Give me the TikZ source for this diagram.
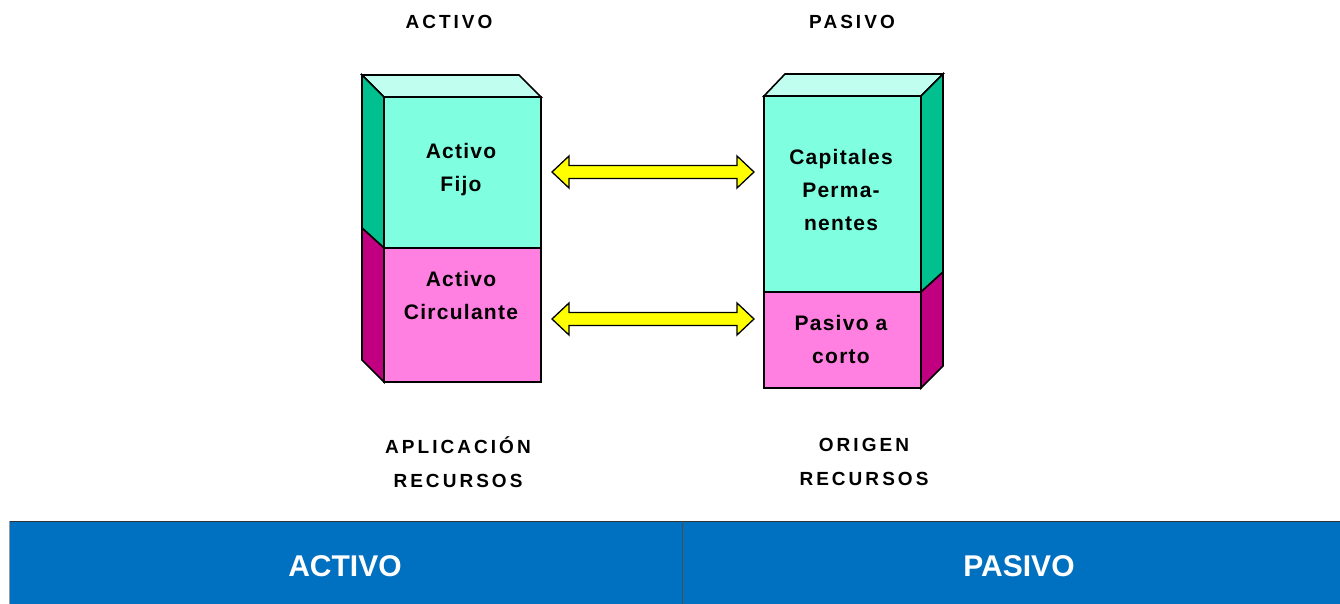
\documentclass[tikz,border=0pt]{standalone}
\usepackage{fontspec}
\setmainfont{Liberation Sans}
\newfontfamily\spacedfont[LetterSpace=16]{Liberation Sans}
\newfontfamily\boxfont[LetterSpace=6]{Liberation Sans}
\definecolor{frontteal}{HTML}{80FFE0}
\definecolor{sideteal}{HTML}{00C090}
\definecolor{topteal}{HTML}{C0FFF0}
\definecolor{frontpink}{HTML}{FF80E0}
\definecolor{sidepink}{HTML}{C00080}
\definecolor{barblue}{HTML}{0070C0}
\definecolor{arrowyellow}{HTML}{FFFF00}
\tikzset{
  face/.style={draw=black, line width=1.6pt, line join=miter},
  heading/.style={font=\spacedfont\bfseries\fontsize{19}{34}\selectfont, text=black, align=center},
  boxtext/.style={font=\boxfont\bfseries\fontsize{21}{33}\selectfont, text=black, align=center},
  bartext/.style={font=\bfseries\fontsize{30}{34}\selectfont, text=white},
  blockarrow/.style={draw=black, line width=1.3pt, fill=arrowyellow, line join=miter}
}
\begin{document}
\begin{tikzpicture}[x=1pt,y=-1pt]
\useasboundingbox (0,0) rectangle (1340,604);
\fill[white] (0,0) rectangle (1340,604);
% ---------- left block ----------
\filldraw[face, fill=topteal] (362,75) -- (519,75) -- (541,97) -- (384,97) -- cycle;
\filldraw[face, fill=sideteal] (362,75) -- (384,97) -- (384,248) -- (362,228) -- cycle;
\filldraw[face, fill=sidepink] (362,228) -- (384,248) -- (384,382) -- (362,360) -- cycle;
\filldraw[face, fill=frontteal] (384,97) rectangle (541,248);
\filldraw[face, fill=frontpink] (384,248) rectangle (541,382);
\node[boxtext] (af) at (461,169.5) {Activo\\Fijo};
\node[boxtext] (ac) at (461,295.5) {Activo\\Circulante};
% ---------- right block ----------
\filldraw[face, fill=topteal] (764,96) -- (785,74) -- (943,74) -- (921,96) -- cycle;
\filldraw[face, fill=sideteal] (921,96) -- (943,74) -- (943,272) -- (921,292) -- cycle;
\filldraw[face, fill=sidepink] (921,292) -- (943,272) -- (943,366) -- (921,388) -- cycle;
\filldraw[face, fill=frontteal] (764,96) rectangle (921,292);
\filldraw[face, fill=frontpink] (764,292) rectangle (921,388);
\node[boxtext] (cp) at (841,190) {Capitales\\Perma-\\nentes};
\node[boxtext] (pc) at (841,339) {Pasivo a\\corto};
% ---------- arrows ----------
\coordinate (a1l) at (552,172);
\coordinate (a1r) at (754,172);
\coordinate (a2l) at (552,319);
\coordinate (a2r) at (754,319);
\foreach \l/\r in {a1l/a1r, a2l/a2r}{
  \filldraw[blockarrow]
    (\l) -- ([shift={(17,-16)}]\l) -- ([shift={(17,-6.5)}]\l)
    -- ([shift={(-17,-6.5)}]\r) -- ([shift={(-17,-16)}]\r) -- (\r)
    -- ([shift={(-17,16)}]\r) -- ([shift={(-17,6.5)}]\r)
    -- ([shift={(17,6.5)}]\l) -- ([shift={(17,16)}]\l) -- cycle;
}
% ---------- headings ----------
\node[heading] (hact) at (449,22) {ACTIVO};
\node[heading] (hpas) at (852,22) {PASIVO};
\node[heading] (apl) at (458,462) {APLICACIÓN\\RECURSOS};
\node[heading] (ori) at (864,462) {ORIGEN\\RECURSOS};
% ---------- bottom bar ----------
\fill[barblue] (9,521) rectangle (1340,604);
\draw[black!80, line width=1.4pt] (9,521.5) -- (1340,521.5);
\draw[black!70, line width=0.8pt] (682,521) -- (682,604);
\draw[black!40, line width=0.6pt] (9,521) -- (9,604);
\node[bartext] (bact) at (345,566) {ACTIVO};
\node[bartext] (bpas) at (1019,566) {PASIVO};
\end{tikzpicture}
\end{document}
